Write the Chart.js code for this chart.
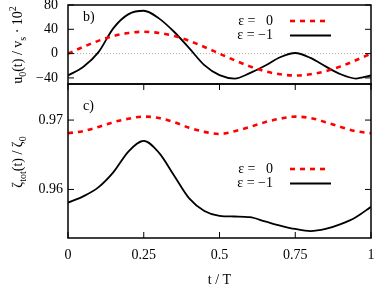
<!DOCTYPE html>
<html>
<head>
<meta charset="utf-8">
<script src="https://cdn.jsdelivr.net/npm/chart.js@4"></script>
<style>
  html, body { margin: 0; padding: 0; background: #fff; }
  #wrap { position: relative; width: 378px; height: 284px; }
  #topChart { position: absolute; left: 0; top: 0; }
  #bottomChart { position: absolute; left: 0; top: 80px; }
</style>
</head>
<body>
<div id="wrap">
  <canvas id="topChart" width="378" height="90"></canvas>
  <canvas id="bottomChart" width="378" height="204"></canvas>
</div>
<script>
// t / T sample positions
const tValues = [0, 0.05, 0.1, 0.15, 0.2, 0.25, 0.3, 0.35, 0.4, 0.45, 0.5,
  0.55, 0.6, 0.65, 0.7, 0.75, 0.8, 0.85, 0.9, 0.95, 1];

// panel b): u0(t) / vs * 10^2
const uEps0 = [0, 11, 21, 29, 34, 36, 34, 29, 21, 11, 0,
  -11, -21, -29, -34, -36, -34, -29, -21, -11, 0];
const uEpsM1 = [-36, -22, 2, 42, 65, 70.5, 58, 36, 9, -19, -35.5,
  -41, -32, -20, -6, 1, -7, -21, -34, -41, -36];

// panel c): zeta_tot(t) / zeta_0
const zEps0 = [0.9681, 0.9684, 0.969, 0.9697, 0.9702, 0.9705, 0.9703, 0.9697, 0.9689, 0.9683, 0.968,
  0.9684, 0.969, 0.9697, 0.9702, 0.9705, 0.9703, 0.9697, 0.969, 0.9684, 0.9681];
const zEpsM1 = [0.9581, 0.959, 0.9603, 0.9625, 0.9655, 0.967, 0.9653, 0.962, 0.9587, 0.9569, 0.9562,
  0.9561, 0.956, 0.9554, 0.9548, 0.9543, 0.954, 0.9543, 0.955, 0.956, 0.9575];

const xTicks = [0, 0.25, 0.5, 0.75, 1];
const yTicksTop = [-40, 0, 40, 80];
const yTicksBottom = [0.96, 0.97];
const legendLabels = ["ε =   0", "ε = −1"];

const FONT = "'Liberation Serif', 'DejaVu Serif', serif";

function points(ys) {
  return tValues.map((t, i) => ({ x: t, y: ys[i] }));
}

function makeDatasets(red, black) {
  return [
    {
      label: legendLabels[0],
      data: points(red),
      borderColor: "#ff0000",
      borderWidth: 2.6,
      borderDash: [5, 5],
      pointRadius: 0,
      cubicInterpolationMode: "monotone",
    },
    {
      label: legendLabels[1],
      data: points(black),
      borderColor: "#000000",
      borderWidth: 1.8,
      pointRadius: 0,
      cubicInterpolationMode: "monotone",
    },
  ];
}

// text with sub/superscripts, rotated for the y titles
function drawRich(ctx, parts, cx, cy) {
  ctx.save();
  ctx.translate(cx, cy);
  ctx.rotate(-Math.PI / 2);
  let w = 0;
  parts.forEach((p) => {
    ctx.font = (p.s ? 10 : 14) + "px " + FONT;
    w += ctx.measureText(p.t).width;
  });
  let x = -w / 2;
  ctx.fillStyle = "#000";
  ctx.textAlign = "left";
  ctx.textBaseline = "alphabetic";
  parts.forEach((p) => {
    ctx.font = (p.s ? 10 : 14) + "px " + FONT;
    const dy = p.s === "sub" ? 3.5 : p.s === "sup" ? -6 : 0;
    ctx.fillText(p.t, x, 5 + dy);
    x += ctx.measureText(p.t).width;
  });
  ctx.restore();
}

const framePlugin = {
  id: "frame",
  beforeDatasetsDraw(chart, args, opts) {
    if (opts.zeroLine === undefined) return;
    const { ctx, chartArea: a, scales } = chart;
    const y = scales.y.getPixelForValue(opts.zeroLine);
    ctx.save();
    ctx.strokeStyle = "#aaaaaa";
    ctx.lineWidth = 1;
    ctx.setLineDash([1, 2]);
    ctx.beginPath();
    ctx.moveTo(a.left, y);
    ctx.lineTo(a.right, y);
    ctx.stroke();
    ctx.restore();
  },
  afterDatasetsDraw(chart, args, opts) {
    const { ctx, chartArea: a, scales } = chart;
    ctx.save();
    ctx.strokeStyle = "#000";
    ctx.lineWidth = 1.5;
    ctx.strokeRect(a.left, a.top, a.right - a.left, a.bottom - a.top);

    // inward ticks
    ctx.lineWidth = 1;
    ctx.beginPath();
    scales.y.ticks.forEach((t) => {
      const y = scales.y.getPixelForValue(t.value);
      ctx.moveTo(a.left, y);
      ctx.lineTo(a.left + 6, y);
      ctx.moveTo(a.right, y);
      ctx.lineTo(a.right - 6, y);
    });
    if (opts.xTicks) {
      scales.x.ticks.forEach((t) => {
        const x = scales.x.getPixelForValue(t.value);
        ctx.moveTo(x, a.bottom);
        ctx.lineTo(x, a.bottom - 6);
        ctx.moveTo(x, a.top);
        ctx.lineTo(x, a.top + 6);
      });
    }
    ctx.stroke();

    // panel label
    ctx.fillStyle = "#000";
    ctx.font = "14px " + FONT;
    ctx.textBaseline = "middle";
    ctx.textAlign = "left";
    ctx.fillText(opts.panel, a.left + 15, a.top + opts.panelDy);

    // legend: text then line sample
    chart.data.datasets.forEach((ds, i) => {
      const y = a.top + opts.legendTop + i * 14.5;
      ctx.textAlign = "right";
      ctx.fillStyle = "#000";
      ctx.fillText(ds.label, a.left + 205, y);
      ctx.strokeStyle = ds.borderColor;
      ctx.lineWidth = ds.borderWidth;
      ctx.setLineDash(ds.borderDash || []);
      ctx.beginPath();
      ctx.moveTo(a.left + 222, y);
      ctx.lineTo(a.left + (ds.borderDash ? 259 : 263), y);
      ctx.stroke();
    });
    ctx.setLineDash([]);

    drawRich(ctx, opts.yTitle, 17, opts.titleY);
    ctx.restore();
  },
};

function yScale(min, max, tickList, pad, fmt) {
  return {
    type: "linear",
    min,
    max,
    grid: { display: false, drawTicks: false },
    border: { display: false },
    afterBuildTicks: (scale) => {
      scale.ticks = tickList.map((v) => ({ value: v }));
    },
    afterFit: (scale) => {
      scale.width = 68;
      scale.paddingTop = 0;
      scale.paddingBottom = 0;
    },
    ticks: {
      padding: pad,
      color: "#000",
      font: { family: FONT, size: 14 },
      callback: fmt,
    },
  };
}

new Chart(document.getElementById("topChart"), {
  type: "line",
  data: { datasets: makeDatasets(uEps0, uEpsM1) },
  plugins: [framePlugin],
  options: {
    responsive: false,
    animation: false,
    devicePixelRatio: 1,
    layout: { padding: { left: 0, right: 7, top: 5, bottom: 6 } },
    scales: {
      x: { type: "linear", min: 0, max: 1, display: false },
      y: yScale(-50, 80, yTicksTop, 10, (v) => String(v).replace("-", "−")),
    },
    plugins: {
      legend: { display: false },
      tooltip: { enabled: false },
      frame: {
        zeroLine: 0,
        xTicks: false,
        panel: "b)",
        panelDy: 12,
        legendTop: 16,
        titleY: 45,
        yTitle: [
          { t: "u" }, { t: "0", s: "sub" }, { t: "(t) / v" }, { t: "s", s: "sub" },
          { t: " · 10" }, { t: "2", s: "sup" },
        ],
      },
    },
  },
});

new Chart(document.getElementById("bottomChart"), {
  type: "line",
  data: { datasets: makeDatasets(zEps0, zEpsM1) },
  plugins: [framePlugin],
  options: {
    responsive: false,
    animation: false,
    devicePixelRatio: 1,
    layout: { padding: { left: 0, right: 7, top: 4, bottom: 0 } },
    scales: {
      x: {
        type: "linear",
        min: 0,
        max: 1,
        grid: { display: false, drawTicks: false },
        border: { display: false },
        afterBuildTicks: (scale) => {
          scale.ticks = xTicks.map((v) => ({ value: v }));
        },
        afterFit: (scale) => {
          scale.height = 46;
          scale.paddingLeft = 0;
          scale.paddingRight = 0;
        },
        ticks: {
          padding: 9,
          color: "#000",
          maxRotation: 0,
          font: { family: FONT, size: 14 },
          callback: (v) => String(v),
        },
        title: {
          display: true,
          text: "t / T",
          color: "#000",
          padding: { top: 0, bottom: -5 },
          font: { family: FONT, size: 14 },
        },
      },
      y: yScale(0.953, 0.9752, yTicksBottom, 5, (v) => v.toFixed(2)),
    },
    plugins: {
      legend: { display: false },
      tooltip: { enabled: false },
      frame: {
        zeroLine: undefined,
        xTicks: true,
        panel: "c)",
        panelDy: 22,
        legendTop: 85,
        titleY: 82,
        yTitle: [
          { t: "ζ" }, { t: "tot", s: "sub" }, { t: "(t) / ζ" }, { t: "0", s: "sub" },
        ],
      },
    },
  },
});
</script>
</body>
</html>
